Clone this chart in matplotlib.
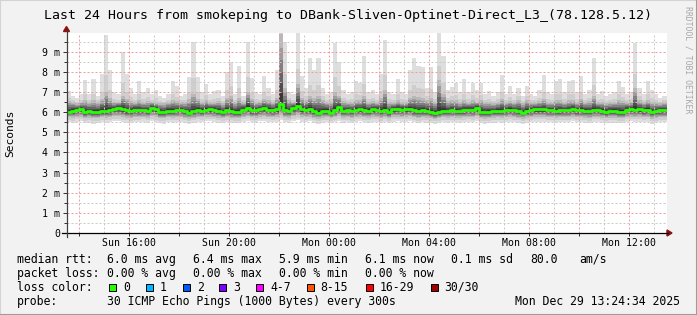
import numpy as np
import matplotlib
matplotlib.use('Agg')
import matplotlib.pyplot as plt
from matplotlib.lines import Line2D
from matplotlib.patches import Rectangle, Polygon

# --- data (10 minute steps, values in ms) ---
t_start = 13.48          # Sun 13:29, hours
step_h = 24 / 144

median = [6.01, 6.07, 6.10, 6.15, 6.02, 6.04, 5.99, 6.01, 6.07, 6.07, 6.09, 6.17,
          6.21, 6.14, 6.09, 6.05, 6.12, 6.10, 6.10, 6.05, 6.21, 6.14, 6.01, 5.99,
          6.07, 6.05, 6.09, 6.10, 6.04, 5.97, 6.04, 6.10, 6.07, 6.12, 6.14, 6.12,
          6.07, 5.99, 6.10, 6.04, 6.01, 6.01, 6.12, 6.21, 6.09, 6.09, 6.15, 6.19,
          6.12, 6.10, 6.14, 6.40, 6.10, 6.07, 6.21, 6.31, 6.14, 6.12, 6.14, 6.04,
          5.96, 6.05, 6.07, 5.97, 6.10, 6.24, 6.05, 6.10, 6.04, 6.12, 6.14, 6.10,
          6.07, 6.14, 6.12, 6.04, 6.12, 6.01, 6.14, 6.15, 6.12, 6.14, 6.17, 6.09,
          6.04, 6.09, 6.05, 6.01, 5.96, 6.02, 6.07, 6.05, 6.10, 6.07, 6.05, 6.09,
          6.12, 6.10, 6.21, 6.01, 5.99, 6.01, 6.05, 6.07, 6.07, 6.10, 6.12, 6.10,
          6.04, 5.97, 6.05, 6.10, 6.14, 6.14, 6.14, 6.10, 6.10, 6.05, 6.09, 6.10,
          6.10, 6.15, 6.09, 6.10, 6.07, 6.04, 6.12, 6.12, 6.07, 6.02, 6.05, 6.07,
          6.01, 6.02, 6.12, 6.15, 6.12, 6.14, 6.09, 6.12, 5.99, 6.04, 6.09, 6.10]

ping_max = [7.05, 6.8, 6.7, 6.9, 7.6, 6.9, 7.65, 6.8, 7.9, 9.85, 8.1, 7.0,
            6.9, 9.0, 7.9, 7.2, 6.9, 7.55, 7.0, 7.2, 6.9, 7.1, 6.8, 6.7,
            6.9, 7.55, 7.3, 6.8, 6.9, 7.75, 9.5, 7.75, 7.0, 7.4, 6.9, 7.05,
            7.1, 6.8, 8.0, 8.5, 6.9, 8.3, 6.8, 9.5, 7.7, 7.0, 6.9, 7.8,
            7.2, 6.9, 8.1, 9.95, 9.5, 7.0, 6.9, 9.95, 7.8, 7.2, 8.7, 8.1,
            8.7, 7.2, 6.9, 7.0, 9.45, 8.5, 7.1, 6.9, 7.0, 7.55, 7.45, 8.8,
            7.0, 7.1, 6.9, 7.9, 9.6, 7.0, 6.9, 7.65, 7.0, 6.9, 8.1, 8.7,
            8.3, 8.25, 7.2, 8.25, 7.0, 9.95, 8.8, 7.1, 7.25, 7.45, 7.0, 7.65,
            7.0, 7.45, 7.1, 7.45, 6.9, 7.05, 6.8, 7.0, 7.85, 6.9, 7.3, 6.9,
            7.2, 6.8, 7.3, 6.9, 6.8, 7.1, 7.85, 7.0, 6.9, 7.55, 7.65, 7.0,
            7.55, 7.6, 7.0, 7.8, 6.9, 7.1, 8.7, 6.9, 7.05, 6.8, 6.9, 7.0,
            7.55, 7.25, 6.9, 7.0, 9.45, 7.2, 6.9, 7.55, 7.1, 6.9, 6.7, 6.8]

ping_hi = [6.55, 6.5, 6.45, 6.5, 6.6, 6.5, 6.6, 6.5, 6.65, 7.0, 6.7, 6.5,
           6.5, 6.8, 6.65, 6.55, 6.5, 6.6, 6.5, 6.55, 6.5, 6.5, 6.45, 6.45,
           6.5, 6.6, 6.55, 6.5, 6.5, 6.65, 6.9, 6.65, 6.5, 6.6, 6.5, 6.5,
           6.55, 6.45, 6.7, 6.8, 6.5, 6.7, 6.5, 7.0, 6.65, 6.5, 6.5, 6.65,
           6.6, 6.5, 6.7, 9.9, 7.2, 6.6, 6.5, 7.4, 6.7, 6.6, 6.8, 6.7,
           6.8, 6.6, 6.5, 6.5, 7.0, 6.8, 6.55, 6.5, 6.5, 6.6, 6.6, 6.8,
           6.5, 6.55, 6.5, 6.7, 7.1, 6.5, 6.5, 6.6, 6.5, 6.5, 6.7, 6.8,
           6.75, 6.7, 6.6, 6.7, 6.5, 7.6, 6.9, 6.55, 6.6, 6.6, 6.5, 6.6,
           6.5, 6.6, 6.5, 6.6, 6.5, 6.5, 6.45, 6.5, 6.65, 6.5, 6.55, 6.5,
           6.6, 6.45, 6.6, 6.5, 6.5, 6.55, 6.65, 6.5, 6.5, 6.6, 6.6, 6.5,
           6.6, 6.6, 6.5, 6.65, 6.5, 6.55, 6.8, 6.5, 6.5, 6.45, 6.5, 6.5,
           6.6, 6.55, 6.5, 6.5, 7.2, 6.6, 6.5, 6.6, 6.5, 6.5, 6.45, 6.5]

ping_lo = [5.74, 5.72, 5.76, 5.78, 5.70, 5.73, 5.69, 5.71, 5.74, 5.73, 5.75, 5.79,
           5.80, 5.76, 5.73, 5.71, 5.75, 5.74, 5.76, 5.72, 5.79, 5.76, 5.70, 5.69,
           5.74, 5.72, 5.75, 5.76, 5.72, 5.68, 5.72, 5.76, 5.74, 5.77, 5.78, 5.76,
           5.73, 5.69, 5.75, 5.72, 5.70, 5.71, 5.76, 5.80, 5.74, 5.73, 5.77, 5.79,
           5.76, 5.74, 5.76, 5.85, 5.74, 5.72, 5.80, 5.84, 5.77, 5.75, 5.77, 5.72,
           5.68, 5.73, 5.74, 5.69, 5.75, 5.80, 5.72, 5.75, 5.71, 5.76, 5.77, 5.75,
           5.73, 5.77, 5.76, 5.71, 5.76, 5.70, 5.77, 5.78, 5.76, 5.77, 5.79, 5.74,
           5.71, 5.74, 5.72, 5.70, 5.67, 5.71, 5.74, 5.72, 5.75, 5.73, 5.72, 5.74,
           5.76, 5.75, 5.80, 5.70, 5.68, 5.70, 5.72, 5.74, 5.73, 5.75, 5.77, 5.75,
           5.72, 5.68, 5.72, 5.75, 5.77, 5.77, 5.77, 5.75, 5.75, 5.72, 5.74, 5.75,
           5.75, 5.78, 5.74, 5.75, 5.73, 5.71, 5.76, 5.76, 5.73, 5.70, 5.72, 5.73,
           5.69, 5.70, 5.76, 5.78, 5.76, 5.77, 5.74, 5.76, 5.68, 5.71, 5.74, 5.75]

ping_min = [5.50, 5.45, 5.52, 5.55, 5.44, 5.48, 5.42, 5.46, 5.50, 5.48, 5.52, 5.56,
            5.55, 5.50, 5.47, 5.45, 5.52, 5.50, 5.53, 5.46, 5.55, 5.50, 5.44, 5.42,
            5.50, 5.47, 5.52, 5.53, 5.46, 5.42, 5.48, 5.52, 5.50, 5.54, 5.55, 5.52,
            5.48, 5.44, 5.50, 5.47, 5.45, 5.46, 5.52, 5.57, 5.50, 5.48, 5.54, 5.56,
            5.52, 5.50, 5.52, 5.60, 5.49, 5.47, 5.56, 5.60, 5.53, 5.51, 5.54, 5.47,
            5.42, 5.48, 5.50, 5.44, 5.51, 5.56, 5.47, 5.51, 5.46, 5.52, 5.54, 5.51,
            5.48, 5.53, 5.52, 5.46, 5.52, 5.45, 5.53, 5.55, 5.52, 5.53, 5.56, 5.50,
            5.46, 5.50, 5.47, 5.45, 5.42, 5.46, 5.50, 5.47, 5.51, 5.49, 5.47, 5.50,
            5.52, 5.51, 5.56, 5.45, 5.43, 5.45, 5.47, 5.50, 5.48, 5.51, 5.53, 5.51,
            5.47, 5.43, 5.47, 5.51, 5.53, 5.53, 5.53, 5.51, 5.51, 5.47, 5.50, 5.51,
            5.51, 5.55, 5.50, 5.51, 5.48, 5.46, 5.52, 5.52, 5.48, 5.45, 5.47, 5.48,
            5.44, 5.45, 5.52, 5.55, 5.52, 5.53, 5.50, 5.52, 5.43, 5.46, 5.50, 5.51]

xtick_hours = [16, 20, 24, 28, 32, 36]
xtick_labels = ['Sun 16:00', 'Sun 20:00', 'Mon 00:00', 'Mon 04:00', 'Mon 08:00', 'Mon 12:00']
ytick_vals = list(range(10))
ytick_labels = ['0'] + ['%d m' % v for v in range(1, 10)]

title = 'Last 24 Hours from smokeping to DBank-Sliven-Optinet-Direct_L3_(78.128.5.12)'
loss_labels = ['0', '1', '2', '3', '4-7', '8-15', '16-29', '30/30']
loss_colors = ['#26ff00', '#00b8ff', '#0059ff', '#7e00ff', '#ff00ff', '#ff5500', '#ff0000', '#a10000']

W, H = 697, 315
MONO = 'DejaVu Sans Mono'


def fx(x):
    return x / W


def fy(y):
    return 1 - y / H


fig = plt.figure(figsize=(W / 100, H / 100), dpi=100, facecolor='#f2f2f2')
ax = fig.add_axes([fx(66.5), fy(233), 600 / W, 200 / H])
ax.set_facecolor('white')

med = np.array(median)
pmax = np.array(ping_max)
phi = np.array(ping_hi)
plo = np.array(ping_lo)
pmin = np.array(ping_min)
edges = t_start + np.arange(len(med) + 1) * step_h


def ext(a):
    return np.append(a, a[-1])


# smoke
ax.fill_between(edges, ext(pmin), ext(pmax), step='post', color='#dedede', lw=0, zorder=1)
ax.fill_between(edges, ext(pmin + 0.5 * (plo - pmin)), ext(phi + 0.3 * (pmax - phi)),
                step='post', color='#cecece', lw=0, zorder=1)
shades = ['#b8b8b8', '#9c9c9c', '#808080', '#666666', '#4e4e4e', '#383838']
fracs = [1.0, 0.8, 0.62, 0.45, 0.3, 0.16]
for f, c in zip(fracs, shades):
    lo = med - f * (med - plo)
    hi = med + f * (phi - med)
    ax.fill_between(edges, ext(lo), ext(hi), step='post', color=c, lw=0, zorder=1)

ax.step(edges, ext(med), where='post', color='#26ff00', lw=2.0, zorder=4)

ax.set_xlim(t_start, t_start + 24)
ax.set_ylim(0, 9.93)

major_x = list(range(14, 38, 2))
ax.set_xticks(major_x)
ax.set_xticklabels([xtick_labels[xtick_hours.index(h)] if h in xtick_hours else '' for h in major_x])
ax.set_xticks(list(range(15, 38, 2)), minor=True)
ax.set_yticks(ytick_vals)
ax.set_yticklabels(ytick_labels)
ax.set_yticks([v + 0.5 for v in range(10)], minor=True)

ax.set_axisbelow(False)
ax.grid(which='major', color='#eaa0a0', linestyle=(0, (2, 2)), lw=0.72)
ax.grid(which='minor', color='#cacaca', linestyle=(0, (2, 2)), lw=0.72)

for lab in ax.get_xticklabels() + ax.get_yticklabels():
    lab.set_family(MONO)
    lab.set_fontsize(7.1)
ax.tick_params(axis='x', which='major', length=2.2, width=0.72, color='#333333', pad=1.5)
ax.tick_params(axis='x', which='minor', length=0)
ax.tick_params(axis='y', which='major', length=3, width=0.72, color='#333333', pad=1.5)
ax.tick_params(axis='y', which='minor', length=2, width=0.72, color='#333333')
for s in ax.spines.values():
    s.set_visible(False)

# axis lines with arrows
fig.add_artist(Line2D([fx(62), fx(668)], [fy(233), fy(233)], color='black', lw=0.9))
fig.add_artist(Line2D([fx(66.5), fx(66.5)], [fy(237), fy(31)], color='#404040', lw=0.9))
fig.add_artist(Polygon([[fx(63.5), fy(31.5)], [fx(69.5), fy(31.5)], [fx(66.5), fy(26.5)]],
                       closed=True, color='#8b1010', transform=fig.transFigure))
fig.add_artist(Polygon([[fx(667), fy(230)], [fx(667), fy(236)], [fx(672), fy(233)]],
                       closed=True, color='#8b1010', transform=fig.transFigure))

# texts
fig.text(fx(348.5), fy(18.5), title, ha='center', va='baseline', fontsize=9.5, family=MONO)
fig.text(fx(10.5), fy(133), 'Seconds', rotation=90, ha='center', va='center', fontsize=8.1, family=MONO)
fig.text(fx(688), fy(60), 'RRDTOOL / TOBI OETIKER', rotation=-90, ha='center', va='center',
         fontsize=5.9, family=MONO, color='#a8a8a8')

LF = 8.3
rows = [
    (263, [(16.7, 'median rtt:'), (107.3, '6.0 ms avg'), (193.3, '6.4 ms max'), (279.3, '5.9 ms min'),
           (365, '6.1 ms now'), (451, '0.1 ms sd'), (530, '80.0'), (579.3, 'am/s')]),
    (277, [(16.7, 'packet loss:'), (107.3, '0.00 % avg'), (193.3, '0.00 % max'), (279.3, '0.00 % min'),
           (365, '0.00 % now')]),
    (291, [(16.7, 'loss color:')]),
    (305, [(16.7, 'probe:'), (107.3, '30 ICMP Echo Pings (1000 Bytes) every 300s')]),
]
for base, items in rows:
    for x, s in items:
        fig.text(fx(x), fy(base), s, ha='left', va='baseline', fontsize=LF, family=MONO)
fig.text(fx(680), fy(305), 'Mon Dec 29 13:24:34 2025', ha='right', va='baseline', fontsize=LF, family=MONO)

box_x = [109.3, 146, 182.7, 219.3, 256, 306.7, 365.7, 430.7]
for bx, lab, col in zip(box_x, loss_labels, loss_colors):
    fig.add_artist(Rectangle((fx(bx), fy(290.5)), 7 / W, 7 / H, transform=fig.transFigure,
                             facecolor=col, edgecolor='black', lw=0.7))
    fig.text(fx(bx + 14), fy(291), lab, ha='left', va='baseline', fontsize=LF, family=MONO)

# 3d frame
fig.add_artist(Line2D([0, 0], [0, 1], color='#d4d4d4', lw=1.5))
fig.add_artist(Line2D([0, 1], [1, 1], color='#d4d4d4', lw=1.5))
fig.add_artist(Line2D([1, 1], [0, 1], color='#9c9c9c', lw=1.5))
fig.add_artist(Line2D([0, 1], [0, 0], color='#9c9c9c', lw=1.5))

fig.savefig('out.png', dpi=100, facecolor=fig.get_facecolor())
